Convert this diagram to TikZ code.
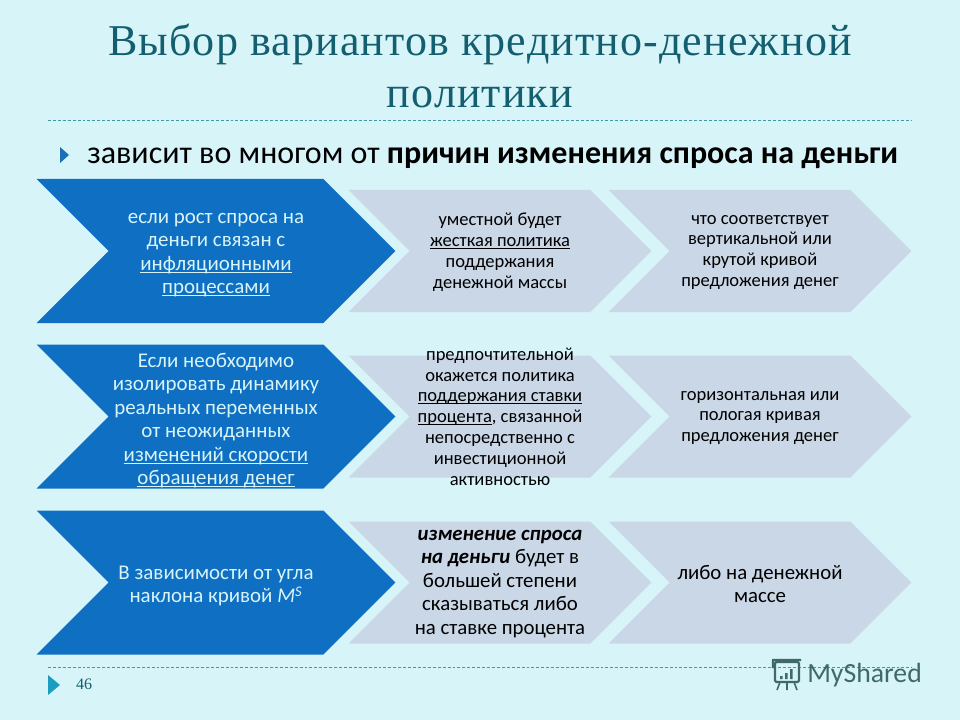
\documentclass[tikz,border=0pt]{standalone}
\usepackage{fontspec}
\setmainfont{Carlito}
\newfontfamily\titlefont[LetterSpace=2.6]{Liberation Serif}
\newfontfamily\pagefont{Liberation Serif}
\usetikzlibrary{shapes.symbols}
\definecolor{slidebg}{HTML}{D7F4F8}
\definecolor{chevblue}{HTML}{0F6FC3}
\definecolor{chevgray}{HTML}{CAD7E7}
\definecolor{titleteal}{HTML}{135F70}
\definecolor{ruleteal}{HTML}{3E9AA6}
\definecolor{bulletblue}{HTML}{1B6FB5}
\definecolor{bulletteal}{HTML}{1C9DC0}
\definecolor{markgray}{HTML}{3F6A68}
\newcommand{\lined}[1]{\underline{\smash{#1}}}
\begin{document}
\begin{tikzpicture}[x=0.75pt,y=-0.75pt]
			\tikzstyle{chevron}=[shape=signal, signal from=west, signal to=east, signal pointer angle=90, inner sep=0pt, outer sep=0pt]
			\tikzstyle{blue chevron}=[chevron, fill=chevblue, minimum width=269pt, minimum height=108pt]
			\tikzstyle{gray chevron}=[chevron, fill=chevgray, minimum width=227pt, minimum height=91.5pt]
			\tikzstyle{blue text}=[align=center, text=slidebg, yshift=-2.8pt, font=\fontsize{15.7}{17.6}\selectfont]
			\tikzstyle{gray text}=[align=center, text=black, yshift=-1pt, font=\fontsize{13.9}{15.6}\selectfont]
			\tikzstyle{slide rule}=[draw=ruleteal, line width=0.5pt, dash pattern=on 2.2pt off 1.5pt]

			\fill [slidebg] (0,0) rectangle (960,720);
			\useasboundingbox (0,0) rectangle (960,720);

			\node (title) [text=titleteal, align=center, font=\titlefont\fontsize{33}{39.5}\selectfont] at (480,66) {Выбор вариантов кредитно-денежной\\политики};
			\draw [slide rule] (48,120.5) -- (912,120.5);
			\fill [bulletblue] (60,147) -- (69,155) -- (60,163) -- cycle;
			\node (lead) [anchor=west, inner sep=0pt, text=black, font=\fontsize{24}{28}\selectfont] at (87,158) {зависит во многом от \textbf{причин изменения спроса на деньги}};

			% first row
			\node (growth) [blue chevron] at (216,251) {};
			\node (growthtext) [blue text] at (growth) {если рост спроса на\\деньги связан с\\\lined{инфляционными}\\\lined{процессами}};
			\node (tight) [gray chevron] at (500,251) {};
			\node (tighttext) [gray text] at (tight) {уместной будет\\\lined{жесткая политика}\\поддержания\\денежной массы};
			\node (steep) [gray chevron] at (760,251) {};
			\node (steeptext) [gray text] at (steep) {что соответствует\\вертикальной или\\крутой кривой\\предложения денег};

			% second row
			\node (isolate) [blue chevron] at (216,416.5) {};
			\node (isolatetext) [blue text] at (isolate) {Если необходимо\\изолировать динамику\\реальных переменных\\от неожиданных\\\lined{изменений скорости}\\\lined{обращения денег}};
			\node (rate) [gray chevron] at (500,416.5) {};
			\node (ratetext) [gray text, yshift=1pt] at (rate) {предпочтительной\\окажется политика\\\lined{поддержания ставки}\\\lined{процента}, связанной\\непосредственно с\\инвестиционной\\активностью};
			\node (flat) [gray chevron] at (760,416.5) {};
			\node (flattext) [gray text] at (flat) {горизонтальная или\\пологая кривая\\предложения денег};

			% third row
			\node (slope) [blue chevron] at (216,582.5) {};
			\node (slopetext) [blue text] at (slope) {В зависимости от угла\\наклона кривой \textit{M}\textsuperscript{\textit{S}}};
			\node (shift) [gray chevron] at (500,582.5) {};
			\node (shifttext) [gray text, font=\fontsize{15.6}{17.6}\selectfont] at (shift) {\textbf{\textit{изменение спроса}}\\\textbf{\textit{на деньги}} будет в\\большей степени\\сказываться либо\\на ставке процента};
			\node (money) [gray chevron] at (760,582.5) {};
			\node (moneytext) [gray text, font=\fontsize{15.6}{17.6}\selectfont] at (money) {либо на денежной\\массе};

			\draw [slide rule] (48,667.5) -- (912,667.5);
			\fill [bulletteal] (48,675) -- (60,685) -- (48,695) -- cycle;
			\node (page) [inner sep=0pt, text=titleteal, font=\pagefont\fontsize{12}{14}\selectfont] at (84,684) {46};

			% watermark
			\draw [markgray, line width=1.6pt, rounded corners=1pt] (772,660) -- (801,660) (773,660) -- (773,668) (775,662) rectangle (799,682);
			\draw [markgray, line width=1.2pt] (780,682) -- (777,690) (787,682) -- (787,690) (794,682) -- (797,690);
			\fill [markgray] (780,676) rectangle (782.5,679) (785,673) rectangle (787.5,679) (790,669) rectangle (792.5,679);
			\node (brand) [anchor=west, inner sep=0pt, text=markgray, font=\fontsize{20.8}{26}\selectfont] at (807,675) {MyShared};
		\end{tikzpicture}
\end{document}
